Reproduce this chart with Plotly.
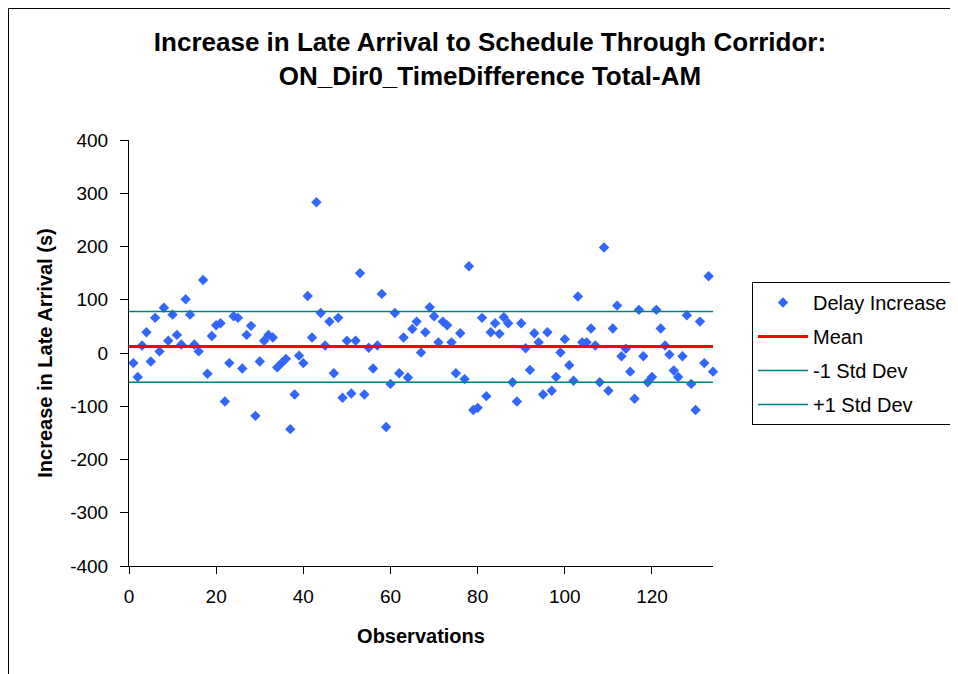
import plotly.graph_objects as go

observations = list(range(1, 135))
delay_increase = [
    -19, -45, 14, 39, -16, 66, 3, 85, 23, 72,
    34, 16, 101, 72, 16, 3, 137, -39, 32, 52,
    56, -91, -19, 69, 66, -29, 34, 51, -118, -16,
    23, 34, 29, -27, -19, -11, -143, -78, -5, -19,
    107, 29, 283, 75, 14, 59, -38, 66, -84, 23,
    -76, 23, 150, -78, 10, -29, 14, 111, -139, -58,
    75, -38, 29, -46, 45, 59, 1, 39, 86, 69,
    20, 59, 52, 20, -38, 37, -49, 163, -107, -103,
    66, -81, 39, 56, 36, 67, 56, -55, -91, 56,
    9, -32, 37, 20, -78, 39, -71, -45, 1, 26,
    -23, -52, 106, 20, 20, 46, 14, -55, 198, -71,
    46, 89, -6, 8, -35, -86, 81, -6, -55, -45,
    81, 46, 14, -3, -33, -45, -6, 71, -58, -107,
    59, -19, 144, -35,
]
mean_value = 12
minus_std = -55
plus_std = 78
line_x = [0, 134]

x_ticks = [0, 20, 40, 60, 80, 100, 120]
y_ticks = [-400, -300, -200, -100, 0, 100, 200, 300, 400]
y_tick_text = ["-400", "-300", "-200", "-100", "0", "100", "200", "300", "400"]

FONT = "Liberation Sans, Arial, sans-serif"

fig = go.Figure()
fig.add_trace(go.Scatter(
    x=observations, y=delay_increase, mode="markers", name="Delay Increase",
    marker=dict(symbol="diamond", size=8, color="#3366FF", line=dict(width=0)),
    legendgroup="a", cliponaxis=False,
))
fig.add_trace(go.Scatter(
    x=line_x, y=[mean_value, mean_value], mode="lines", name="Mean",
    line=dict(color="#FF0000", width=3), legendgroup="b",
))
fig.add_trace(go.Scatter(
    x=line_x, y=[minus_std, minus_std], mode="lines", name="-1 Std Dev",
    line=dict(color="#008080", width=1.5), legendgroup="c",
))
fig.add_trace(go.Scatter(
    x=line_x, y=[plus_std, plus_std], mode="lines", name="+1 Std Dev",
    line=dict(color="#008080", width=1.5), legendgroup="d",
))

L, R, T, B = 121, 253, 132, 116
W, H = 958, 674
pw, ph = W - L - R, H - T - B

def px_x(p):
    return (p - L) / pw

def px_y(p):
    return (H - B - p) / ph

fig.update_layout(
    width=W, height=H,
    margin=dict(l=L, r=R, t=T, b=B),
    paper_bgcolor="white", plot_bgcolor="white",
    font=dict(family=FONT, size=19, color="black"),
    title=dict(
        text="<b>Increase in Late Arrival to Schedule Through Corridor:<br>ON_Dir0_TimeDifference Total-AM</b>",
        x=482 / W, xanchor="center", y=1 - 43 / H, yanchor="middle",
        font=dict(family=FONT, size=26, color="black"),
    ),
    showlegend=True,
    legend=dict(
        x=px_x(744), xanchor="left", y=px_y(274), yanchor="top",
        bgcolor="white", bordercolor="black", borderwidth=1,
        font=dict(family=FONT, size=20, color="black"),
        tracegroupgap=5, itemwidth=50,
    ),
    xaxis=dict(
        range=[0, 134], tickvals=x_ticks, showgrid=False, zeroline=False,
        showline=True, linecolor="black", linewidth=1,
        ticks="outside", ticklen=7, tickcolor="black", ticklabelstandoff=6,
        title=dict(text="<b>Observations</b>", font=dict(family=FONT, size=20), standoff=23),
    ),
    yaxis=dict(
        range=[-400, 400], tickvals=y_ticks, ticktext=y_tick_text,
        showgrid=False, zeroline=False,
        showline=True, linecolor="black", linewidth=1,
        ticks="outside", ticklen=8, tickcolor="black", ticklabelstandoff=8,
        title=dict(text="<b>Increase in Late Arrival (s)</b>", font=dict(family=FONT, size=20), standoff=12),
    ),
    shapes=[dict(
        type="rect", xref="paper", yref="paper",
        x0=px_x(0.5), x1=px_x(1000), y0=px_y(700), y1=px_y(0.5),
        line=dict(color="black", width=1), fillcolor="rgba(0,0,0,0)", layer="below",
    )],
)

fig.write_html("out.html")
